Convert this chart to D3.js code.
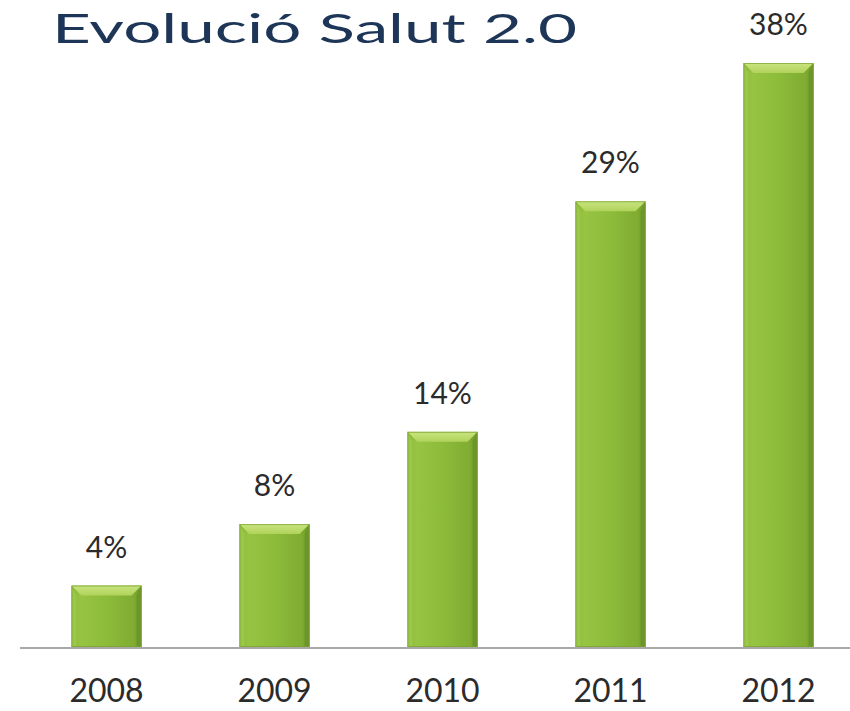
<!DOCTYPE html>
<html>
<head>
<meta charset="utf-8">
<script src="https://cdn.jsdelivr.net/npm/d3@7"></script>
<style>
html,body{margin:0;padding:0;background:#fff;}
svg{display:block;}
</style>
</head>
<body>
<svg id="chart" width="850" height="711"></svg>
<script>
const title = "Evolució Salut 2.0";
const years = ["2008", "2009", "2010", "2011", "2012"];
const values = [4, 8, 14, 29, 38];
const valueLabels = ["4%", "8%", "14%", "29%", "38%"];

const svg = d3.select("#chart");
const W = 850, H = 711;
const baseY = 647;

const x = d3.scaleBand().domain(years).range([22.5, 862.5]).paddingInner(0.583).paddingOuter(0.2915);
const y = d3.scaleLinear().domain([0, 38]).range([baseY, 63]);

const defs = svg.append("defs");
const g1 = defs.append("linearGradient").attr("id", "barGrad").attr("x1", 0).attr("x2", 1).attr("y1", 0).attr("y2", 0);
g1.append("stop").attr("offset", "0%").attr("stop-color", "#88b436");
g1.append("stop").attr("offset", "12%").attr("stop-color", "#98c443");
g1.append("stop").attr("offset", "50%").attr("stop-color", "#8dbb3a");
g1.append("stop").attr("offset", "88%").attr("stop-color", "#80ad32");
g1.append("stop").attr("offset", "100%").attr("stop-color", "#6f982a");
const g2 = defs.append("linearGradient").attr("id", "topGrad").attr("x1", 0).attr("x2", 0).attr("y1", 0).attr("y2", 1);
g2.append("stop").attr("offset", "0%").attr("stop-color", "#c9e480");
g2.append("stop").attr("offset", "100%").attr("stop-color", "#b0d35a");

// title
svg.append("text")
  .attr("x", 52).attr("y", 43)
  .attr("textLength", 525).attr("lengthAdjust", "spacingAndGlyphs")
  .style("font-family", "Lato, 'Open Sans', sans-serif")
  .style("font-weight", 400)
  .style("font-size", "40px")
  .attr("fill", "#1d3557")
  .text(title);

// axis line
svg.append("line")
  .attr("x1", 20).attr("x2", W).attr("y1", baseY + 1).attr("y2", baseY + 1)
  .attr("stroke", "#a8a8a8").attr("stroke-width", 2);

const bev = 10;
const bars = svg.append("g").selectAll("g").data(years).join("g");

bars.each(function(d, i) {
  const gsel = d3.select(this);
  const x0 = x(d), x1 = x(d) + x.bandwidth();
  const yt = y(values[i]), yb = y(0);
  gsel.append("rect")
    .attr("x", x0).attr("y", yt).attr("width", x1 - x0).attr("height", yb - yt)
    .attr("fill", "url(#barGrad)");
  // left bevel
  gsel.append("polygon")
    .attr("points", [[x0, yt], [x0 + 5, yt + bev], [x0 + 5, yb], [x0, yb]].map(p => p.join(",")).join(" "))
    .attr("fill", "#9fca4c").attr("opacity", 0.8);
  // right bevel
  gsel.append("polygon")
    .attr("points", [[x1, yt], [x1 - 5, yt + bev], [x1 - 5, yb], [x1, yb]].map(p => p.join(",")).join(" "))
    .attr("fill", "#6a9428").attr("opacity", 0.8);
  // top bevel
  gsel.append("polygon")
    .attr("points", [[x0, yt], [x1, yt], [x1 - bev, yt + bev], [x0 + bev, yt + bev]].map(p => p.join(",")).join(" "))
    .attr("fill", "url(#topGrad)");
  // outline
  gsel.append("rect")
    .attr("x", x0 + 0.5).attr("y", yt + 0.5).attr("width", x1 - x0 - 1).attr("height", yb - yt - 1)
    .attr("fill", "none").attr("stroke", "#78a030").attr("stroke-width", 1).attr("opacity", 0.7);
});

// value labels
svg.append("g").selectAll("text").data(years).join("text")
  .attr("x", d => x(d) + x.bandwidth() / 2)
  .attr("y", (d, i) => y(values[i]) - 28)
  .attr("text-anchor", "middle")
  .style("font-family", "Lato, 'Open Sans', sans-serif")
  .style("font-size", "30px")
  .attr("fill", "#2b2b2b")
  .text((d, i) => valueLabels[i]);

// year labels
svg.append("g").selectAll("text").data(years).join("text")
  .attr("x", d => x(d) + x.bandwidth() / 2)
  .attr("y", 702)
  .attr("text-anchor", "middle")
  .style("font-family", "Lato, 'Open Sans', sans-serif")
  .style("font-size", "32px")
  .attr("fill", "#2b2b2b")
  .text(d => d);
</script>
</body>
</html>
